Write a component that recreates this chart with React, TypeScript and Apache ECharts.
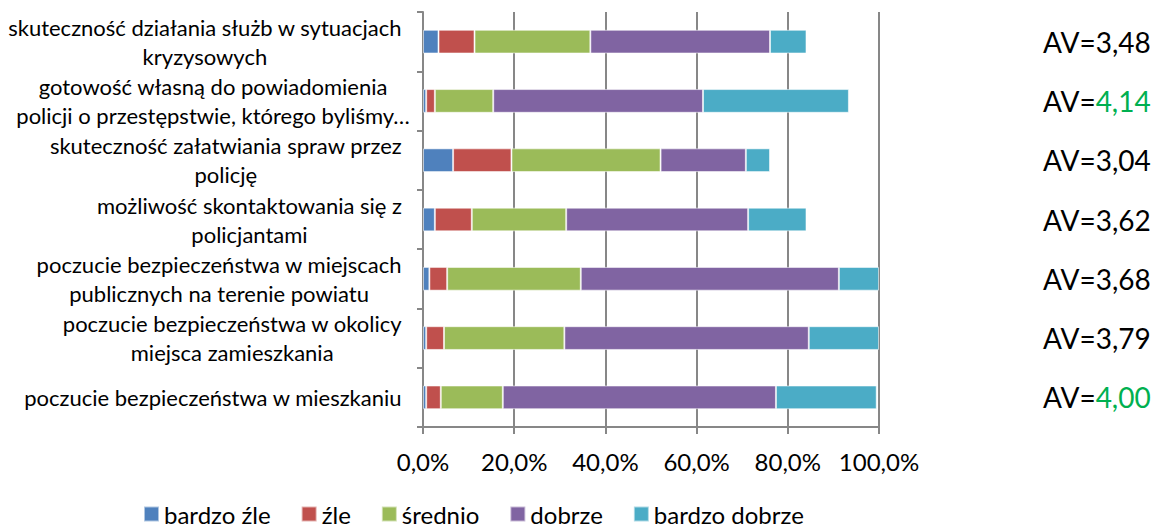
import { useEffect, useRef } from "react";
import * as echarts from "echarts";

// Categories, top to bottom
const categories = [
  "skuteczność działania służb w sytuacjach\nkryzysowych",
  "gotowość własną do powiadomienia\npolicji o przestępstwie, którego byliśmy…",
  "skuteczność załatwiania spraw przez\npolicję",
  "możliwość skontaktowania się z\npolicjantami",
  "poczucie bezpieczeństwa w miejscach\npublicznych na terenie powiatu",
  "poczucie bezpieczeństwa w okolicy\nmiejsca zamieszkania",
  "poczucie bezpieczeństwa w mieszkaniu",
];

const seriesNames = ["bardzo źle", "źle", "średnio", "dobrze", "bardzo dobrze"];
const seriesColors = ["#4F81BD", "#C0504D", "#9BBB59", "#8064A2", "#4BACC6"];

const bardzoZle = [3.4, 0.7, 6.6, 2.6, 1.4, 0.7, 0.7];
const zle = [7.9, 1.9, 12.8, 8.1, 3.9, 3.9, 3.2];
const srednio = [25.4, 12.8, 32.7, 20.7, 29.3, 26.4, 13.6];
const dobrze = [39.4, 46.0, 18.7, 39.9, 56.6, 53.6, 59.9];
const bardzoDobrze = [8.0, 32.0, 5.3, 12.8, 8.8, 15.4, 22.1];

const avValues = ["3,48", "4,14", "3,04", "3,62", "3,68", "3,79", "4,00"];
const avHighlight = [false, true, false, false, false, false, true];

const xTicks = [0, 20, 40, 60, 80, 100];

const FONT = "Lato, 'Open Sans', sans-serif";
const LABEL_SIZE = 22;

export default function App() {
  const ref = useRef<HTMLDivElement>(null);

  useEffect(() => {
    document.body.style.margin = "0";
    if (!ref.current) return;
    const chart = echarts.init(ref.current, undefined, { renderer: "svg" });
    const values = [bardzoZle, zle, srednio, dobrze, bardzoDobrze];

    chart.setOption({
      animation: false,
      grid: { left: 423, right: 279, top: 12, bottom: 102 },
      legend: {
        left: 143,
        top: 502,
        padding: 0,
        icon: "rect",
        itemWidth: 15,
        itemHeight: 15,
        itemGap: 30,
        data: seriesNames,
        textStyle: { fontFamily: FONT, fontSize: 24, color: "#000", lineHeight: 24 },
      },
      xAxis: {
        type: "value",
        min: xTicks[0],
        max: xTicks[xTicks.length - 1],
        interval: 20,
        axisLine: { show: true, lineStyle: { color: "#878787", width: 2 } },
        axisTick: { show: true, length: 7, lineStyle: { color: "#878787", width: 2 } },
        splitLine: { show: true, lineStyle: { color: "#878787", width: 2 } },
        axisLabel: {
          margin: 22,
          fontFamily: FONT,
          fontSize: 24,
          color: "#000",
          formatter: (v: number) => v.toFixed(1).replace(".", ",") + "%",
        },
      },
      yAxis: {
        type: "category",
        inverse: true,
        data: categories,
        axisLine: { show: true, lineStyle: { color: "#878787", width: 2 } },
        axisTick: { show: true, length: 6, lineStyle: { color: "#878787", width: 2 } },
        axisLabel: { show: false },
        splitLine: { show: false },
      },
      series: seriesNames.map((name, k) => ({
        name,
        type: "bar",
        stack: "total",
        barWidth: "40%",
        data: values[k],
        itemStyle: {
          color: seriesColors[k],
          borderColor: "rgba(255,255,255,0.55)",
          borderWidth: 1,
        },
      })),
    });

    const canvas = document.createElement("canvas");
    const ctx = canvas.getContext("2d")!;
    ctx.font = `${LABEL_SIZE}px ${FONT}`;
    const rightEdge = 402;

    const graphics: any[] = [];
    categories.forEach((lbl, i) => {
      const y = chart.convertToPixel({ yAxisIndex: 0 }, i) as number;
      const lines = lbl.split("\n");
      const maxW = Math.max(...lines.map((l) => ctx.measureText(l.replace("…", "")).width));
      const cx = rightEdge - maxW / 2;
      graphics.push({
        type: "text",
        x: cx,
        y,
        style: {
          text: lbl,
          fontFamily: FONT,
          fontSize: LABEL_SIZE,
          lineHeight: 29,
          fill: "#000",
          align: "center",
          verticalAlign: "middle",
          textAlign: "center",
          textVerticalAlign: "middle",
        },
      });
      graphics.push({
        type: "text",
        x: 1043,
        y,
        style: {
          text: avHighlight[i] ? `{b|AV=}{g|${avValues[i]}}` : `{b|AV=${avValues[i]}}`,
          fontFamily: FONT,
          fontSize: 28,
          align: "left",
          verticalAlign: "middle",
          textAlign: "left",
          textVerticalAlign: "middle",
          rich: {
            b: { fontFamily: FONT, fontSize: 28, fill: "#000", color: "#000" },
            g: { fontFamily: FONT, fontSize: 28, fill: "#00B050", color: "#00B050" },
          },
        },
      });
    });
    chart.setOption({ graphic: graphics });

    return () => chart.dispose();
  }, []);

  return <div ref={ref} style={{ width: 1158, height: 529 }} />;
}
